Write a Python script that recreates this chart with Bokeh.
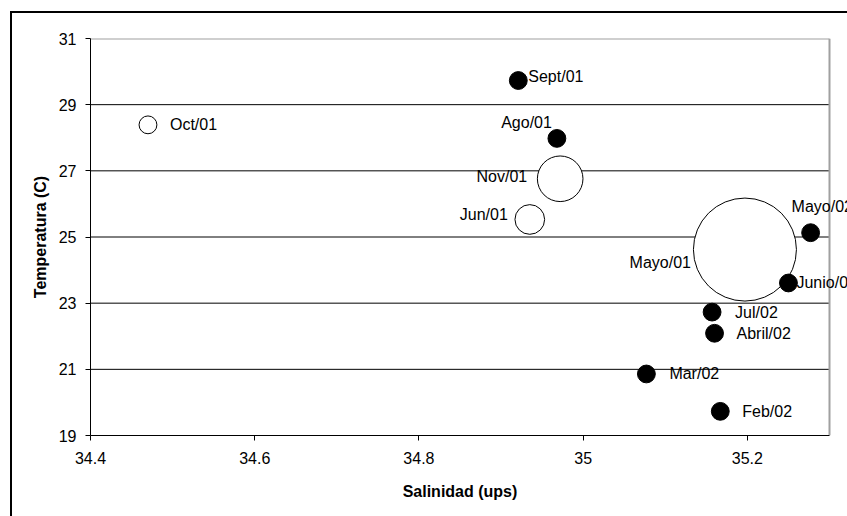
from bokeh.plotting import figure
from bokeh.models import ColumnDataSource, Label, Range1d, Title
from bokeh.embed import file_html
from bokeh.resources import INLINE

# ---- data ----
months = ["Oct/01", "Sept/01", "Ago/01", "Nov/01", "Jun/01", "Mayo/01",
          "Mayo/02", "Junio/02", "Jul/02", "Abril/02", "Mar/02", "Feb/02"]
salinity = [34.470, 34.921, 34.968, 34.972, 34.935, 35.197,
            35.277, 35.250, 35.157, 35.160, 35.077, 35.167]
temperature = [28.39, 29.73, 27.98, 26.76, 25.53, 24.62,
               25.13, 23.61, 22.73, 22.09, 20.86, 19.73]
bubble_value = [3.0, 3.0, 3.0, 19.6, 8.3, 100.0,
                3.0, 3.0, 3.0, 3.0, 3.0, 3.0]
filled = [False, True, True, False, False, False,
          True, True, True, True, True, True]

x_min, x_max = 34.4, 35.3
y_min, y_max = 19, 31
x_ticks = [34.4, 34.6, 34.8, 35.0, 35.2]
x_tick_labels = ["34.4", "34.6", "34.8", "35", "35.2"]
y_ticks = [19, 21, 23, 25, 27, 29, 31]
y_tick_labels = ["19", "21", "23", "25", "27", "29", "31"]

x_title = "Salinidad (ups)"
y_title = "Temperatura (C)"

# ---- label placement (layout, screen px; dy positive = down) ----
label_dx = [22, 10, -5, -33, -22, -54, -19, 8, 23, 22, 23, 22]
label_dy = [0, -4, -16, -2, -5, 13, -26, 0, 0, 0, 0, 0]
label_side = ["left", "left", "right", "right", "right", "right",
              "left", "left", "left", "left", "left", "left"]

FONT = "Liberation Sans"
MAX_DIAM = 103.0

def diam(v):
    return MAX_DIAM * (v / max(bubble_value)) ** 0.5

W, H = 847, 516
FL, FT, FB = 90, 38, 435          # plot-area edges (px)
PLOT_RIGHT = 829                  # right edge of the plot area (px)
px_per_unit = (PLOT_RIGHT - FL) / (x_max - x_min)
x_end = x_min + (W - FL) / px_per_unit   # frame runs to canvas edge so labels can overflow

open_idx = [i for i in range(len(months)) if not filled[i]]
fill_idx = [i for i in range(len(months)) if filled[i]]

open_src = ColumnDataSource(dict(
    x=[salinity[i] for i in open_idx],
    y=[temperature[i] for i in open_idx],
    s=[diam(bubble_value[i]) for i in open_idx]))
fill_src = ColumnDataSource(dict(
    x=[salinity[i] for i in fill_idx],
    y=[temperature[i] for i in fill_idx],
    s=[diam(bubble_value[i]) for i in fill_idx]))

p = figure(width=W, height=H, output_backend="svg", toolbar_location=None,
           x_range=Range1d(x_min, x_end), y_range=Range1d(y_min, y_max),
           min_border_left=FL, min_border_top=FT,
           min_border_right=0, min_border_bottom=H - FB)

# outer chart border (left and top edges), drawn behind a transparent canvas
p.styles = {"background":
            "linear-gradient(#000,#000) 10px 11px / 2px 700px no-repeat, "
            "linear-gradient(#000,#000) 10px 11px / 1000px 2px no-repeat"}
p.background_fill_color = None
p.border_fill_color = None
p.outline_line_color = None

p.xgrid.visible = False
p.ygrid.visible = False

for ax in (p.xaxis[0], p.yaxis[0]):
    ax.axis_line_color = "black"
    ax.axis_line_width = 1
    ax.major_tick_line_color = "black"
    ax.major_tick_out = 5
    ax.major_tick_in = 0
    ax.minor_tick_line_color = None
    ax.major_label_text_font = FONT
    ax.major_label_text_font_size = "16px"
    ax.major_label_text_color = "black"
    ax.axis_label_text_font = FONT
    ax.axis_label_text_font_size = "16px"
    ax.axis_label_text_font_style = "bold"
    ax.axis_label_text_color = "black"

p.xaxis.ticker = x_ticks
p.xaxis.major_label_overrides = dict(zip(x_ticks, x_tick_labels))
p.xaxis.bounds = (x_min, x_max)
p.yaxis.ticker = y_ticks
p.yaxis.major_label_overrides = dict(zip(y_ticks, y_tick_labels))
p.yaxis.axis_label = y_title
p.xaxis.major_label_standoff = 11
p.yaxis.major_label_standoff = 9
p.yaxis.axis_label_standoff = 7

title_w = 114.7
p.add_layout(Title(text=x_title, align="left",
                   offset=(PLOT_RIGHT - FL) / 2 - title_w / 2,
                   text_font=FONT, text_font_size="16px",
                   text_font_style="bold", text_color="black",
                   standoff=28), "below")

# plot area: white fill, horizontal gridlines, grey top/right border
p.quad(left=[x_min], right=[x_max], bottom=[y_min], top=[y_max],
       fill_color="white", line_color=None)
inner = [t for t in y_ticks if y_min < t < y_max]
p.segment(x0=[x_min] * len(inner), y0=inner, x1=[x_max] * len(inner), y1=inner,
          line_color="black", line_width=1)
p.segment(x0=[x_min, x_max], y0=[y_max, y_min], x1=[x_max, x_max], y1=[y_max, y_max],
          line_color="#a0a0a0", line_width=2)

p.scatter("x", "y", size="s", source=open_src, marker="circle",
          fill_color="white", line_color="black", line_width=1)
p.scatter("x", "y", size="s", source=fill_src, marker="circle",
          fill_color="black", line_color="black", line_width=1)

for i in range(len(months)):
    p.add_layout(Label(x=salinity[i], y=temperature[i], text=months[i],
                       x_offset=label_dx[i], y_offset=-label_dy[i],
                       text_align=label_side[i], text_baseline="middle",
                       text_font=FONT, text_font_size="16px",
                       text_color="black"))

open("out.html", "w").write(file_html(p, INLINE))
